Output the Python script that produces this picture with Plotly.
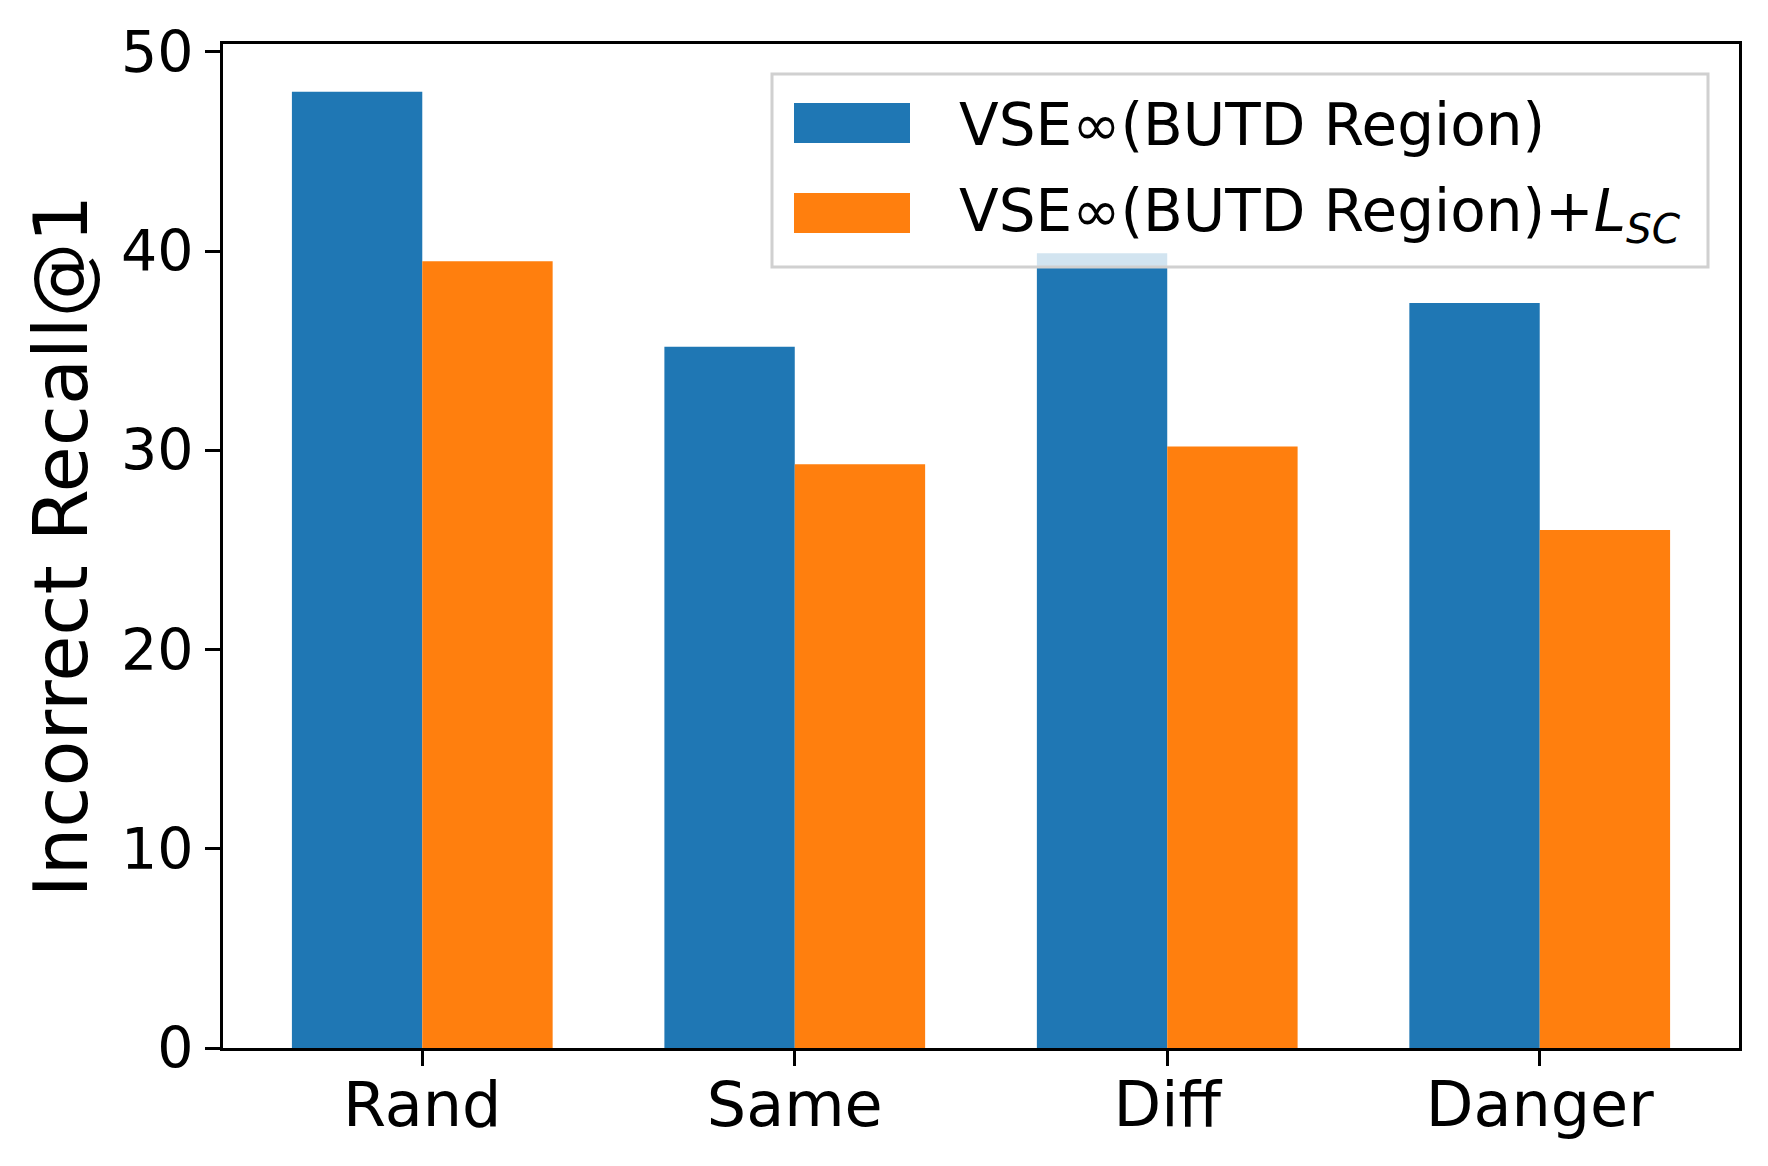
import plotly.graph_objects as go

categories = ["Rand", "Same", "Diff", "Danger"]
series_names = ["VSE∞(BUTD Region)", "VSE∞(BUTD Region)+<i>L</i><sub><i>SC</i></sub>"]
vse_values = [48.0, 35.2, 39.9, 37.4]
vse_sc_values = [39.5, 29.3, 30.2, 26.0]
y_ticks = [0, 10, 20, 30, 40, 50]
y_title = "Incorrect Recall@1"

BLUE = "#1f77b4"
ORANGE = "#ff7f0e"
FONT = "DejaVu Sans"

W, H = 1768, 1166
ML, MR, MT, MB = 223, 29, 44, 118
PW = W - ML - MR
PH = H - MT - MB


def px_x(px):
    return (px - ML) / PW


def px_y(py):
    return (H - MB - py) / PH


fig = go.Figure()
fig.add_trace(go.Bar(x=categories, y=vse_values, name=series_names[0],
                     marker=dict(color=BLUE, line=dict(width=0)), showlegend=False))
fig.add_trace(go.Bar(x=categories, y=vse_sc_values, name=series_names[1],
                     marker=dict(color=ORANGE, line=dict(width=0)), showlegend=False))

# legend drawn as layout decoration (large matplotlib-style swatches)
shapes = [dict(type="rect", xref="paper", yref="paper",
               x0=px_x(772), x1=px_x(1708), y0=px_y(267), y1=px_y(74),
               fillcolor="rgba(255,255,255,0.8)", line=dict(color="#d0d0d0", width=3),
               layer="above")]
annotations = []
rows = [(103, 143), (193, 233)]
colors = [BLUE, ORANGE]
for (top, bot), col, name in zip(rows, colors, series_names):
    shapes.append(dict(type="rect", xref="paper", yref="paper",
                       x0=px_x(794), x1=px_x(910), y0=px_y(bot), y1=px_y(top),
                       fillcolor=col, line=dict(width=0), layer="above"))
    annotations.append(dict(xref="paper", yref="paper", x=px_x(957), y=px_y((top + bot) / 2 + 2),
                            xanchor="left", yanchor="middle", showarrow=False,
                            text=name, font=dict(family=FONT, size=58, color="black")))

fig.update_layout(
    width=W, height=H,
    margin=dict(l=ML, r=MR, t=MT, b=MB, pad=0),
    paper_bgcolor="white", plot_bgcolor="white",
    barmode="group", bargap=0.3, bargroupgap=0,
    font=dict(family=FONT, color="black"),
    shapes=shapes, annotations=annotations,
    showlegend=False,
)
fig.update_xaxes(range=[-0.535, 3.535], showline=True, linecolor="black", linewidth=3,
                 mirror=True, ticks="outside", ticklen=15, tickwidth=3, tickcolor="black",
                 tickfont=dict(family=FONT, size=62), showgrid=False, zeroline=False,
                 ticklabelstandoff=-14)
fig.update_yaxes(range=[0, 50.4], tickvals=y_ticks, showline=True, linecolor="black", linewidth=3,
                 mirror=True, ticks="outside", ticklen=15, tickwidth=3, tickcolor="black",
                 tickfont=dict(family=FONT, size=57), showgrid=False, zeroline=False,
                 title=dict(text=y_title, font=dict(family=FONT, size=75), standoff=9))

fig.write_html("out.html", config={"displayModeBar": False},
               post_script="document.body.style.margin='0';document.body.style.overflow='hidden';")
